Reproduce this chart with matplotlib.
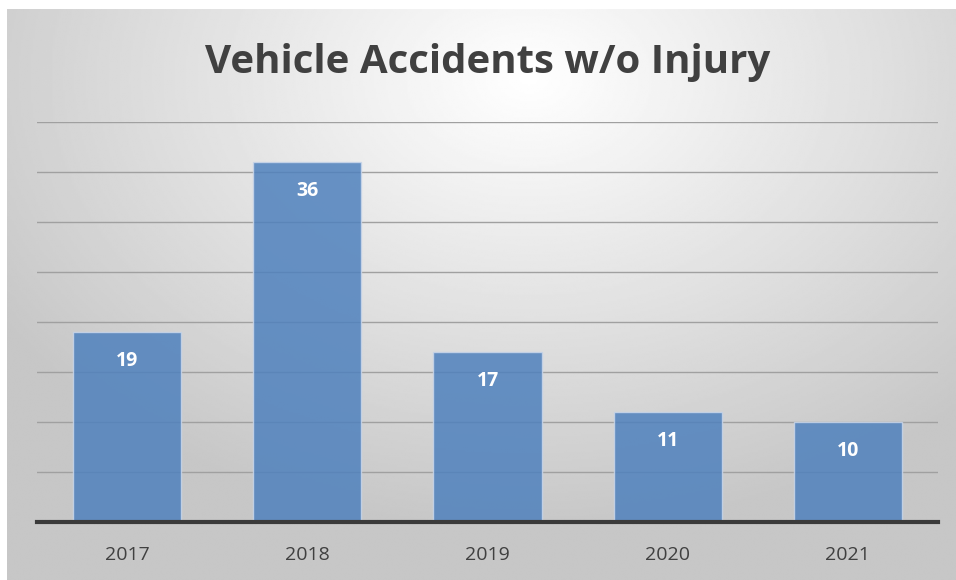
import numpy as np
import matplotlib
matplotlib.use("Agg")
import matplotlib.pyplot as plt

years = ["2017", "2018", "2019", "2020", "2021"]
accidents = [19, 36, 17, 11, 10]
title = "Vehicle Accidents w/o Injury"

W, H = 956, 580
fig = plt.figure(figsize=(W/100, H/100), dpi=100)
fig.patch.set_facecolor("white")

# radial gradient background
bg = fig.add_axes([7/W, 0, 1 - 7/W, 1 - 9/H], zorder=-10)
yy, xx = np.mgrid[0:1:300j, 0:1:500j]
r = np.sqrt(((xx - 0.55) / 0.75) ** 2 + ((yy - 0.12) / 0.9) ** 2)
v = np.clip(1.0 - 0.25 * r, 0.78, 1.0)
bg.imshow(v, cmap="gray", vmin=0, vmax=1, aspect="auto", extent=[0, 1, 1, 0], interpolation="bilinear")
bg.set_axis_off()

ax = fig.add_axes([37/W, 1 - 522/H, (938-37)/W, (522-122)/H])
ax.set_facecolor("none")
x = np.arange(len(years))
bars = ax.bar(x, accidents, width=0.6, color="#4f81bd", alpha=0.85,
              edgecolor="#c9d6ea", linewidth=1.0, zorder=3)
ax.set_xlim(-0.5, len(years) - 0.5)
ax.set_ylim(0, 40)
ax.set_yticks(np.arange(0, 41, 5))
ax.yaxis.grid(True, color="#a0a0a0", linewidth=1.0, zorder=1)
ax.set_axisbelow(True)
ax.tick_params(axis="y", left=False, labelleft=False)
ax.tick_params(axis="x", bottom=False, labelsize=14, colors="#404040", pad=14)
ax.set_xticks(x)
ax.set_xticklabels(years, fontfamily="Open Sans")
for s in ["left", "right", "top"]:
    ax.spines[s].set_visible(False)
ax.spines["bottom"].set_color("#3a3a3a")
ax.spines["bottom"].set_linewidth(3)
ax.spines["bottom"].set_zorder(5)

for xi, val in zip(x, accidents):
    ax.text(xi, val - 2.85, str(val), ha="center", va="center", color="white",
            fontsize=14, fontweight="bold", fontfamily="Open Sans", zorder=6)

fig.text(488/W, 1 - 62/H, title, ha="center", va="center", fontsize=29,
         fontweight="bold", color="#404040", fontfamily="Open Sans")

fig.savefig("out.png", dpi=100)
